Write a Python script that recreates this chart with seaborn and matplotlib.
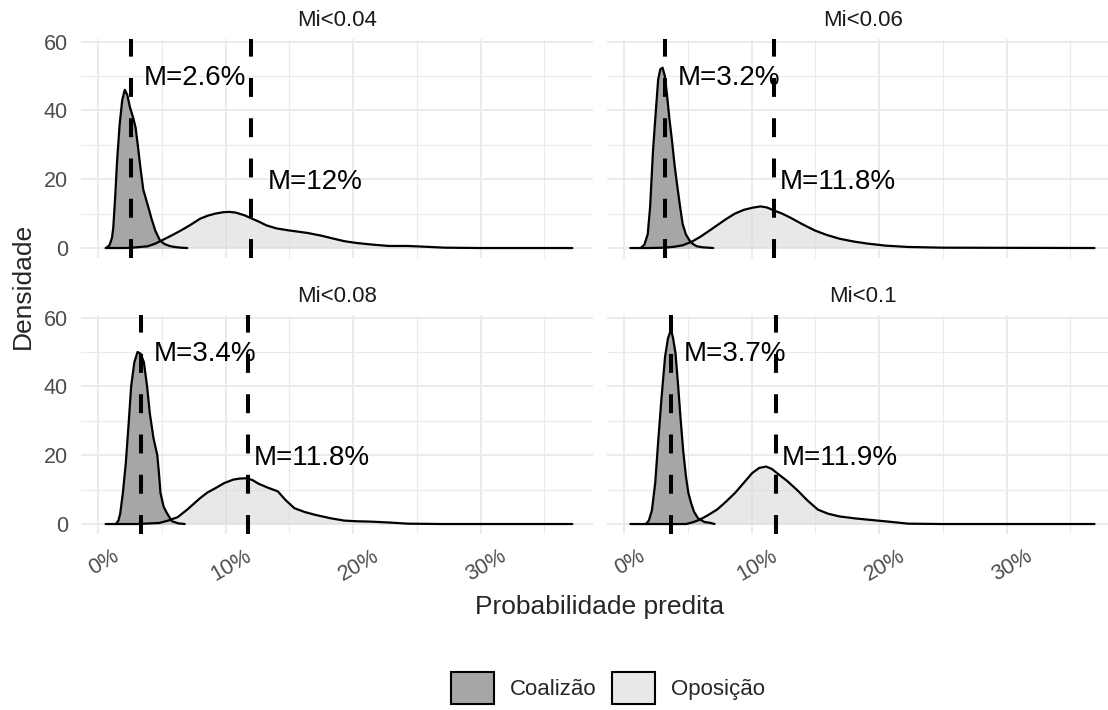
import numpy as np
import pandas as pd
import matplotlib
matplotlib.use("Agg")
import matplotlib.pyplot as plt
import matplotlib.transforms as mtransforms
from matplotlib.patches import Patch
from matplotlib.ticker import FixedLocator, FuncFormatter
import seaborn as sns

# --- data (x in %, density) ---
panels = ["Mi<0.04", "Mi<0.06", "Mi<0.08", "Mi<0.1"]
groups = ["Coalizão", "Oposição"]

coal_x_1 = [0.63, 0.9, 1.1, 1.2, 1.35, 1.5, 1.7, 1.9, 2.1, 2.3, 2.5, 2.75, 2.95, 3.15, 3.34, 3.55, 3.9, 4.2, 4.5, 4.86, 5.2, 5.6, 6.0, 6.5, 7.0]
coal_y_1 = [0, 0.8, 3, 6, 15, 25.5, 36, 43, 46, 44.5, 41, 38, 35, 29, 23, 17, 12.5, 8.5, 5, 2.2, 1.2, 0.6, 0.3, 0.1, 0]
opos_x_1 = [0.6, 2.2, 3.0, 3.9, 4.5, 5.1, 5.8, 6.5, 7.2, 8.0, 8.6, 9.2, 9.8, 10.3, 10.8, 11.5, 12.1, 12.6, 13.2, 14.0, 15.0, 16.4, 17.5, 18.5, 19.3, 20.2, 21.5, 22.8, 24.3, 25.5, 27.2, 30.0, 37.2]
opos_y_1 = [0, 0, 0.2, 0.5, 1.3, 2.4, 3.7, 5.1, 6.6, 8.5, 9.4, 10.0, 10.4, 10.5, 10.3, 9.5, 8.5, 7.7, 6.6, 5.7, 5.1, 4.4, 3.6, 2.7, 2.0, 1.5, 1.0, 0.6, 0.6, 0.4, 0.1, 0, 0]

coal_x_2 = [1.31, 1.6, 1.86, 2.05, 2.27, 2.5, 2.68, 2.85, 3.03, 3.2, 3.36, 3.55, 3.77, 3.97, 4.18, 4.4, 4.6, 4.85, 5.14, 5.4, 5.7, 6.2, 7.0]
coal_y_2 = [0, 1, 4, 12, 28, 40, 49, 52, 52.4, 50, 45, 38, 31, 24, 18, 12, 7, 4, 2.2, 1.2, 0.5, 0.2, 0]
opos_x_2 = [0.5, 2.0, 3.2, 4.0, 4.6, 5.3, 5.96, 6.6, 7.3, 8.0, 8.7, 9.4, 10.05, 10.7, 11.2, 11.7, 12.4, 13.06, 14.0, 14.97, 15.9, 16.9, 18.0, 19.07, 20.5, 22.3, 25.0, 36.9]
opos_y_2 = [0, 0, 0.1, 0.4, 0.8, 1.8, 3.2, 4.8, 6.6, 8.4, 10, 11.1, 11.7, 12.1, 11.8, 11, 10, 8.8, 6.9, 5.1, 3.8, 2.7, 1.9, 1.3, 0.7, 0.3, 0.1, 0]

coal_x_3 = [1.4, 1.6, 1.74, 1.95, 2.18, 2.4, 2.6, 2.85, 3.1, 3.35, 3.6, 3.85, 4.07, 4.35, 4.65, 4.8, 4.9, 5.15, 5.4, 5.8, 6.3, 6.8]
coal_y_3 = [0, 1, 3, 9, 17.7, 29, 40, 47, 50, 49.5, 47, 40, 32, 25, 20, 14, 9, 5, 3.2, 0.8, 0.2, 0]
opos_x_3 = [0.6, 3.0, 4.8, 5.5, 6.25, 7.0, 8.0, 8.6, 9.2, 9.9, 10.6, 11.1, 11.6, 12.1, 12.6, 13.3, 14.1, 14.7, 15.4, 16.2, 17.0, 18.2, 19.3, 20.3, 21.4, 23.0, 24.3, 27.0, 37.2]
opos_y_3 = [0, 0, 0.3, 1, 2, 4.2, 7.5, 9.2, 10.4, 11.9, 12.9, 13.2, 13.3, 12.8, 11.7, 10.6, 9.5, 7, 4.6, 3.5, 2.7, 1.7, 1.0, 0.8, 0.7, 0.4, 0.1, 0, 0]

coal_x_4 = [1.72, 1.95, 2.19, 2.45, 2.68, 2.95, 3.22, 3.45, 3.69, 3.85, 4.04, 4.25, 4.45, 4.65, 4.86, 5.05, 5.27, 5.5, 5.8, 6.3, 6.8, 7.1]
coal_y_4 = [0, 1, 4, 12, 24, 37, 48.6, 54, 56.5, 54, 49.6, 40, 30, 21, 13.8, 9, 6, 3.5, 1.7, 0.6, 0.3, 0]
opos_x_4 = [0.5, 3.0, 4.86, 5.4, 5.96, 6.6, 7.3, 8.0, 8.7, 9.4, 10.05, 10.6, 11.15, 11.6, 12.0, 12.8, 13.6, 14.4, 15.2, 16.0, 16.9, 18.2, 19.6, 21.0, 22.3, 25.0, 36.9]
opos_y_4 = [0, 0, 0, 0.5, 1.3, 2.6, 4.2, 6.5, 9, 12, 14.8, 16.3, 16.7, 16, 14.8, 12.5, 9.8, 6.8, 4.2, 3.0, 2.2, 1.6, 1.1, 0.6, 0.1, 0, 0]

mean_coal = [2.6, 3.2, 3.4, 3.7]
mean_opos = [12.0, 11.8, 11.8, 11.9]

x_ticks = [0, 10, 20, 30]
y_ticks = [0, 20, 40, 60]

curves = {
    ("Coalizão", 0): (coal_x_1, coal_y_1), ("Oposição", 0): (opos_x_1, opos_y_1),
    ("Coalizão", 1): (coal_x_2, coal_y_2), ("Oposição", 1): (opos_x_2, opos_y_2),
    ("Coalizão", 2): (coal_x_3, coal_y_3), ("Oposição", 2): (opos_x_3, opos_y_3),
    ("Coalizão", 3): (coal_x_4, coal_y_4), ("Oposição", 3): (opos_x_4, opos_y_4),
}
rows = []
for (g, p), (xs, ys) in curves.items():
    for x, y in zip(xs, ys):
        rows.append({"painel": panels[p], "grupo": g, "x": x, "dens": y})
df = pd.DataFrame(rows)

# --- style ---
sns.set_theme(style="white")
plt.rcParams["font.family"] = ["Liberation Sans", "DejaVu Sans"]

fills = {"Coalizão": ("#A6A6A6", 1.0), "Oposição": ("#D9D9D9", 0.6)}
grid_col = "#EBEBEB"

W, H = 1108, 710
fig = plt.figure(figsize=(W / 100, H / 100), dpi=100)

# panel boxes in pixels: (left, top, right, bottom)
boxes = [(81, 38.5, 593, 258), (607, 38.5, 1119, 258),
         (81, 314.5, 593, 534), (607, 314.5, 1119, 534)]

for i, (l, t, r, b) in enumerate(boxes):
    ax = fig.add_axes([l / W, 1 - b / H, (r - l) / W, (b - t) / H])
    sub = df[df["painel"] == panels[i]]
    for g in groups:
        d = sub[sub["grupo"] == g]
        col, a = fills[g]
        ax.fill_between(d["x"], 0, d["dens"], color=col, alpha=a, lw=0, zorder=2)
        sns.lineplot(data=d, x="x", y="dens", ax=ax, color="black", lw=1.6,
                     sort=False, estimator=None, zorder=3)
    for m, yy in [(mean_coal[i], 49.5), (mean_opos[i], 19.3)]:
        ax.axvline(m, color="black", lw=2.9, linestyle=(0, (4.7, 5.3)), zorder=4)
        ax.text(m + 5, yy, f"M={m:g}%", ha="center", va="center", fontsize=20,
                color="black", zorder=5)

    ax.set_xlim(-1.333, 38.82)
    ax.set_ylim(-2.9, 60.9)
    ax.xaxis.set_major_locator(FixedLocator(x_ticks))
    ax.xaxis.set_minor_locator(FixedLocator([5, 15, 25, 35]))
    ax.yaxis.set_major_locator(FixedLocator(y_ticks))
    ax.yaxis.set_minor_locator(FixedLocator([10, 30, 50]))
    ax.grid(which="major", color=grid_col, lw=1.4, zorder=0)
    ax.grid(which="minor", color=grid_col, lw=0.8, zorder=0)
    ax.set_axisbelow(True)
    for s in ax.spines.values():
        s.set_visible(False)
    ax.set_xlabel("")
    ax.set_ylabel("")
    ax.tick_params(which="minor", length=0)
    ax.tick_params(axis="both", which="major", length=4.8, width=1.1, color="#333333",
                   labelcolor="#4D4D4D", labelsize=15.5)
    ax.tick_params(axis="y", pad=4.5)
    ax.tick_params(axis="x", pad=3.6)

    if i < 2:
        ax.tick_params(axis="x", bottom=False, labelbottom=False)
    else:
        ax.xaxis.set_major_formatter(FuncFormatter(lambda v, p: f"{v:.0f}%"))
        off = mtransforms.ScaledTranslation(6 / 100, 0, fig.dpi_scale_trans)
        for lab in ax.get_xticklabels():
            lab.set_rotation(30)
            lab.set_ha("center")
            lab.set_transform(lab.get_transform() + off)
    if i % 2 == 1:
        ax.tick_params(axis="y", left=False, labelleft=False)

    fig.text(((l + r) / 2) / W, 1 - (t - 18.5) / H, panels[i], ha="center",
             va="center", fontsize=16, color="#1A1A1A")

fig.text(600 / W, 1 - 607 / H, "Probabilidade predita", ha="center", va="center", fontsize=19)
fig.text(23 / W, 1 - 286 / H, "Densidade", ha="center", va="center", rotation=90, fontsize=19)

handles = [Patch(facecolor="#A6A6A6", edgecolor="black", lw=1.5),
           Patch(facecolor="#E8E8E8", edgecolor="black", lw=1.5)]
fig.legend(handles, groups, loc="center", bbox_to_anchor=(608 / W, 1 - 688 / H), ncol=2,
           frameon=False, fontsize=16, handlelength=1.94, handleheight=1.85,
           handletextpad=0.72, columnspacing=0.72, borderpad=0, borderaxespad=0)

fig.savefig("out.png", dpi=100)
